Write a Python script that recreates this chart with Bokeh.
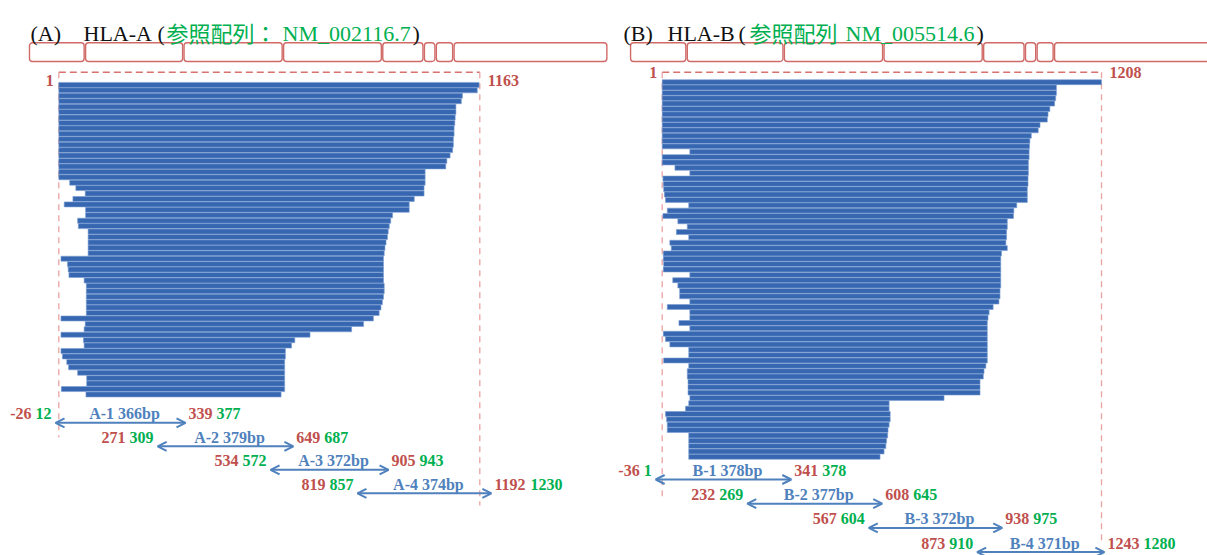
from bokeh.plotting import figure
from bokeh.models import Range1d, ColumnDataSource, Arrow, OpenHead
from bokeh.core.properties import value
from bokeh.embed import file_html
from bokeh.resources import INLINE

# ---------------- data ----------------
A_ref_len = 1163
B_ref_len = 1208

A_read_start = [1, 1, 1, 1, 1, 1, 1, 1, 1, 1, 1, 1, 1, 1, 1, 1, 1, 1, 31, 48,
                74, 40, 16, 75, 75, 53, 55, 82, 82, 82, 82, 82, 7, 25, 27, 29, 71, 77, 77, 77,
                77, 77, 77, 7, 74, 71, 7, 69, 71, 7, 11, 23, 28, 53, 78, 78, 8, 76]
A_read_end = [1161, 1156, 1115, 1112, 1097, 1097, 1095, 1094, 1092, 1092, 1090, 1090, 1088, 1081, 1072, 1069, 1012, 1012, 1012, 1009,
              1009, 982, 968, 968, 922, 917, 913, 910, 908, 904, 901, 899, 897, 897, 897, 897, 897, 899, 899, 897,
              894, 890, 885, 869, 842, 809, 694, 652, 643, 626, 626, 624, 624, 624, 624, 624, 624, 614]

B_read_start = [1, 1, 1, 1, 1, 1, 1, 1, 1, 1, 1, 1, 1, 77, 1, 1, 36, 77, 3, 4,
                5, 7, 10, 74, 15, 3, 44, 70, 40, 74, 22, 26, 4, 4, 5, 4, 77, 30, 44, 49,
                49, 77, 15, 77, 77, 47, 77, 4, 10, 22, 74, 74, 5, 74, 70, 70, 72, 72, 72, 77,
                74, 65, 10, 13, 15, 15, 74, 74, 74, 74, 74]
B_read_end = [1208, 1084, 1084, 1082, 1079, 1066, 1061, 1059, 1039, 1034, 1015, 1011, 1010, 1009, 1009, 1007, 1007, 1007, 1006, 1006,
              1004, 1004, 1004, 975, 967, 966, 949, 949, 947, 947, 945, 949, 933, 931, 931, 931, 931, 931, 931, 929,
              929, 926, 910, 899, 896, 894, 894, 894, 894, 894, 894, 894, 894, 890, 885, 883, 874, 874, 874, 775,
              624, 624, 627, 627, 624, 621, 620, 617, 615, 610, 599]

A_primer_name = ["A-1 366bp", "A-2 379bp", "A-3 372bp", "A-4 374bp"]
A_fwd_pos = ["-26", "271", "534", "819"]
A_fwd_alt = ["12", "309", "572", "857"]
A_rev_pos = ["339", "649", "905", "1192"]
A_rev_alt = ["377", "687", "943", "1230"]
A_arrow_from = [-9, 273, 585, 825]
A_arrow_to = [350, 648, 911, 1195]

B_primer_name = ["B-1 378bp", "B-2 377bp", "B-3 372bp", "B-4 371bp"]
B_fwd_pos = ["-36", "232", "567", "873"]
B_fwd_alt = ["1", "269", "604", "910"]
B_rev_pos = ["341", "608", "938", "1243"]
B_rev_alt = ["378", "645", "975", "1280"]
B_arrow_from = [-18, 234, 568, 866]
B_arrow_to = [355, 605, 935, 1216]

A_exon_edges = [-83, 72, 344, 619, 893, 1008, 1041, 1090, 1516]
B_exon_edges = [-89, 67, 334, 608, 882, 997, 1029, 1077, 1522]

A_gene = "HLA-A"
B_gene = "HLA-B"
A_refseq = "NM_002116.7"
B_refseq = "NM_005514.6"

# ---------------- layout ----------------
W, H = 1207, 555
X0, Y0 = 0, 0          # reference-pixel coords of canvas top-left
RED = "#C0504D"
GREEN = "#00B050"
BLUE = "#4F81BD"
BAR = "#3767B1"
SERIF = value("Liberation Serif")
CJK = value("Noto Sans CJK JP")

p = figure(width=W, height=H, x_range=Range1d(X0, X0 + W), y_range=Range1d(Y0 + H, Y0),
           output_backend="svg", toolbar_location=None, title=None,
           x_axis_location=None, y_axis_location=None, min_border=0,
           background_fill_color="white", border_fill_color="white")
p.grid.visible = False
p.outline_line_color = None

panels = {
    "A": dict(px0=58.3, px1=479.3, L=A_ref_len, top=81.7, bottom=396.7,
              start=A_read_start, end=A_read_end, names=A_primer_name,
              fp=A_fwd_pos, fa=A_fwd_alt, rp=A_rev_pos, ra=A_rev_alt,
              af=A_arrow_from, at=A_arrow_to, exons=A_exon_edges,
              ay0=422.3, ady=23.5, lab_y=80, vl_bottom=437, vr_bottom=505),
    "B": dict(px0=661.7, px1=1101.0, L=B_ref_len, top=79.0, bottom=459.0,
              start=B_read_start, end=B_read_end, names=B_primer_name,
              fp=B_fwd_pos, fa=B_fwd_alt, rp=B_rev_pos, ra=B_rev_alt,
              af=B_arrow_from, at=B_arrow_to, exons=B_exon_edges,
              ay0=479.0, ady=24.2, lab_y=72, vl_bottom=500, vr_bottom=540),
}


def tw(s):
    w = 0.0
    for c in s:
        w += 5.33 if c == "-" else (4.0 if c == " " else 8.0)
    return w


for key, d in panels.items():
    s = (d["px1"] - d["px0"]) / d["L"]
    xr = "x" + key
    p.extra_x_ranges[xr] = Range1d((X0 - d["px0"]) / s, (X0 + W - d["px0"]) / s)
    n = len(d["start"])
    pitch = (d["bottom"] - d["top"]) / n
    yr = "rows" + key
    p.extra_y_ranges[yr] = Range1d((Y0 + H - d["top"]) / pitch, (Y0 - d["top"]) / pitch)

    # exon boxes
    ex = d["exons"]
    p.quad(left=[e + 2 for e in ex[:-1]], right=[e - 2 for e in ex[1:]],
           top=42.3, bottom=61.0, x_range_name=xr, fill_color="white",
           line_color="#D06A67", line_width=1.4, border_radius=3)

    # reference dashed frame
    p.segment(x0=[0], y0=[71.7], x1=[d["L"]], y1=[71.7], x_range_name=xr,
              line_color="#D9726E", line_width=1.5, line_dash="7 4")
    p.segment(x0=[0, d["L"]], y0=[71.7, 71.7], x1=[0, d["L"]],
              y1=[d["vl_bottom"], d["vr_bottom"]], x_range_name=xr,
              line_color="#EBA3A1", line_width=1.3, line_dash="6 5")

    # reads
    rows = list(range(n))
    p.quad(left=[v - 1 for v in d["start"]], right=d["end"],
           top=[r + 0.04 for r in rows], bottom=[r + 0.96 for r in rows],
           x_range_name=xr, y_range_name=yr,
           fill_color=BAR, line_color="#7A9DD2", line_width=0.6)

    # end labels
    p.text(x=[0], y=[d["lab_y"]], text=["1"], x_range_name=xr, x_offset=-5,
           text_align="right", text_baseline="middle", text_color=RED,
           text_font=SERIF, text_font_style="bold", text_font_size="16px")
    p.text(x=[d["L"]], y=[d["lab_y"]], text=[str(d["L"])], x_range_name=xr, x_offset=8,
           text_align="left", text_baseline="middle", text_color=RED,
           text_font=SERIF, text_font_style="bold", text_font_size="16px")

    # primers
    ys = [d["ay0"] + i * d["ady"] for i in range(4)]
    src = ColumnDataSource(dict(x0=d["af"], x1=d["at"], y=ys))
    p.add_layout(Arrow(source=src, x_start="x0", y_start="y", x_end="x1", y_end="y",
                       x_range_name=xr, line_color=BLUE, line_width=2,
                       start=OpenHead(size=9, line_color=BLUE, line_width=2),
                       end=OpenHead(size=9, line_color=BLUE, line_width=2)))
    ly = [y - 9 for y in ys]
    mid = [(a + b) / 2 for a, b in zip(d["af"], d["at"])]
    p.text(x=mid, y=ly, text=d["names"], x_range_name=xr, x_offset=4,
           text_align="center", text_baseline="middle", text_color=BLUE,
           text_font=SERIF, text_font_style="bold", text_font_size="16px")
    # left labels: red then green, ending just before arrow start
    p.text(x=d["af"], y=ly, text=d["fa"], x_range_name=xr, x_offset=-4,
           text_align="right", text_baseline="middle", text_color=GREEN,
           text_font=SERIF, text_font_style="bold", text_font_size="16px")
    p.text(x=d["af"], y=ly, text=d["fp"], x_range_name=xr,
           x_offset=[-4 - tw(t) - 4 for t in d["fa"]],
           text_align="right", text_baseline="middle", text_color=RED,
           text_font=SERIF, text_font_style="bold", text_font_size="16px")
    # right labels
    p.text(x=d["at"], y=ly, text=d["rp"], x_range_name=xr, x_offset=3,
           text_align="left", text_baseline="middle", text_color=RED,
           text_font=SERIF, text_font_style="bold", text_font_size="16px")
    p.text(x=d["at"], y=ly, text=d["ra"], x_range_name=xr,
           x_offset=[3 + tw(t) + 4 for t in d["rp"]],
           text_align="left", text_baseline="middle", text_color=GREEN,
           text_font=SERIF, text_font_style="bold", text_font_size="16px")

# titles (pieces placed at the positions seen in the reference)
TB = 33
TFS = "22px"
p.text(x=[30, 83, 157, 623, 667, 738], y=[TB] * 6,
       text=["(A)", A_gene, "(", "(B)", B_gene, "("],
       text_align="left", text_baseline="alphabetic", text_color="#111111",
       text_font=SERIF, text_font_size=TFS)
p.text(x=[412, 976], y=[TB] * 2, text=[")", ")"],
       text_align="left", text_baseline="alphabetic", text_color="#111111",
       text_font=SERIF, text_font_size=TFS)
p.text(x=[166, 749], y=[31, 31], text=["参照配列：", "参照配列"],
       text_align="left", text_baseline="alphabetic", text_color=GREEN,
       text_font=CJK, text_font_size="22px")
p.text(x=[282, 845], y=[TB] * 2, text=[A_refseq, B_refseq],
       text_align="left", text_baseline="alphabetic", text_color=GREEN,
       text_font=SERIF, text_font_size=TFS)

open("out.html", "w").write(file_html(p, INLINE))
